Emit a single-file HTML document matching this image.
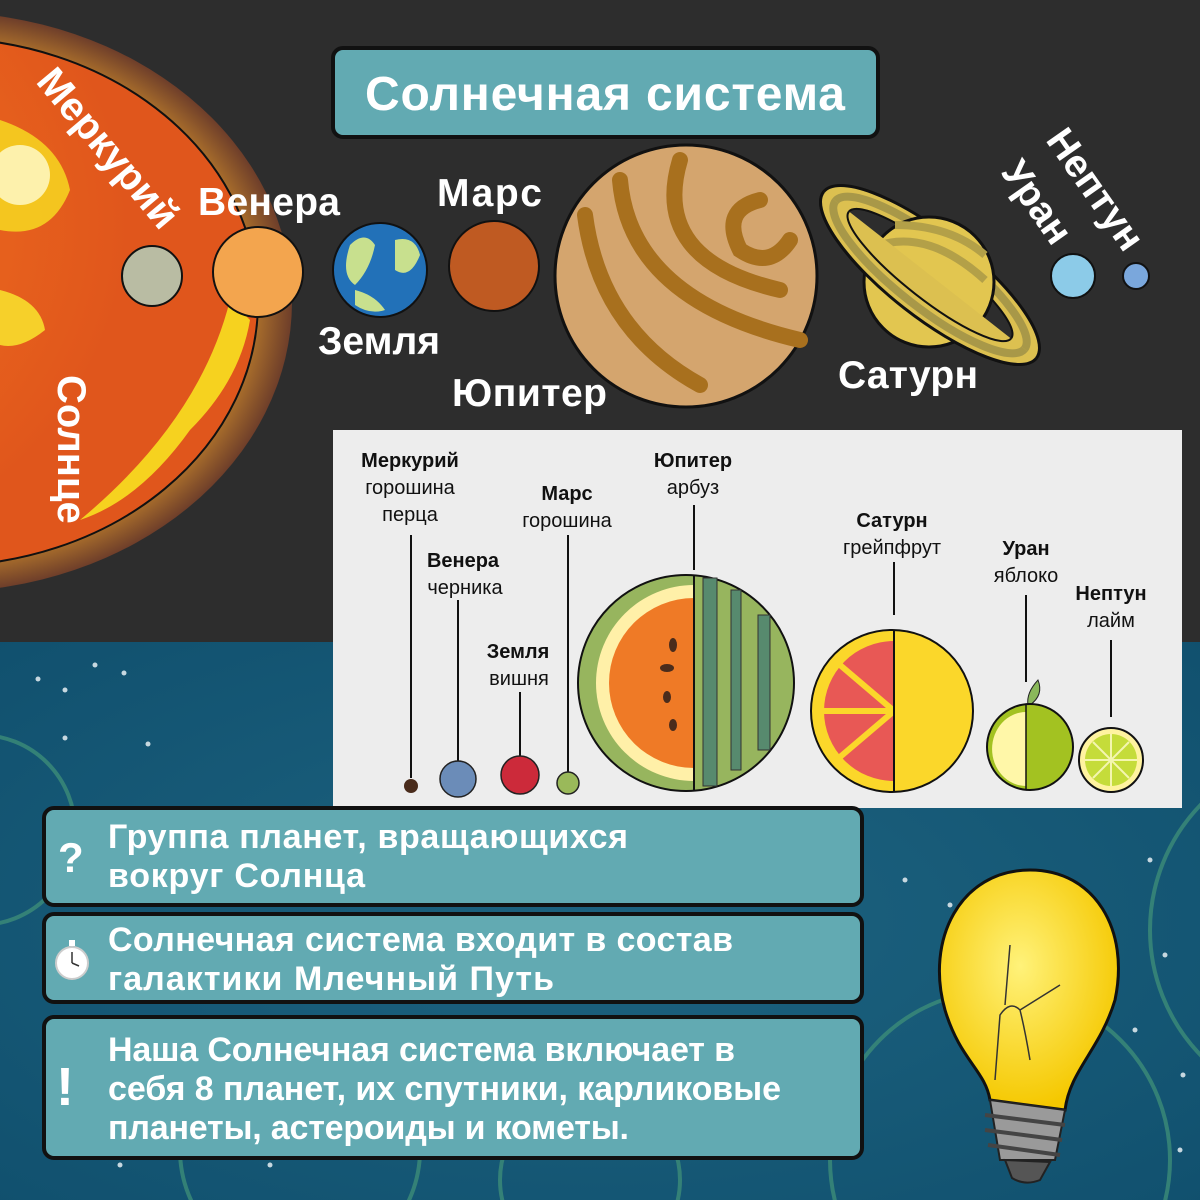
<!DOCTYPE html>
<html><head><meta charset="utf-8"><style>
html,body{margin:0;padding:0;width:1200px;height:1200px;overflow:hidden;background:#2d2d2d}
svg{display:block;overflow:hidden}
text{font-family:"Liberation Sans","DejaVu Sans",sans-serif}
</style></head><body>
<svg width="1200" height="1200" viewBox="0 0 1200 1200" xmlns="http://www.w3.org/2000/svg">
<defs>
<radialGradient id="sea" cx="0.5" cy="0.5" r="0.8"><stop offset="0" stop-color="#1d6380"/><stop offset="1" stop-color="#0f4e6c"/></radialGradient>
<radialGradient id="sunglow" cx="0.1" cy="0.35" r="0.7"><stop offset="0" stop-color="#fff6a0"/><stop offset="0.15" stop-color="#f8d22a"/><stop offset="0.45" stop-color="#ec6a1e"/><stop offset="1" stop-color="#e0561c"/></radialGradient>
<radialGradient id="corona" cx="0.5" cy="0.5" r="0.5"><stop offset="0.85" stop-color="#c8872c"/><stop offset="1" stop-color="#6e3e2a"/></radialGradient>
<radialGradient id="bulb" cx="0.45" cy="0.4" r="0.6"><stop offset="0" stop-color="#fff27a"/><stop offset="1" stop-color="#f5c800"/></radialGradient>
<clipPath id="front"><polygon points="694,90 1166,460 1166,700 600,700 600,90"/></clipPath>
</defs>
<rect width="1200" height="1200" fill="#2d2d2d"/>
<rect y="642" width="1200" height="558" fill="url(#sea)"/>
<g fill="none" stroke="#3c8c78" stroke-width="4" opacity="0.8">
<circle cx="-20" cy="830" r="95"/>
<circle cx="1330" cy="930" r="180"/>
<circle cx="1000" cy="1160" r="170"/>
<circle cx="300" cy="1150" r="120"/>
<circle cx="590" cy="1180" r="90"/>
</g>
<g fill="#c7d8e0">
<circle cx="38" cy="679" r="2.5"/><circle cx="95" cy="665" r="2.5"/><circle cx="124" cy="673" r="2.5"/><circle cx="65" cy="690" r="2.5"/><circle cx="65" cy="738" r="2.5"/><circle cx="148" cy="744" r="2.5"/><circle cx="1150" cy="860" r="2.5"/><circle cx="1165" cy="955" r="2.5"/><circle cx="1183" cy="1075" r="2.5"/><circle cx="905" cy="880" r="2.5"/><circle cx="950" cy="905" r="2.5"/><circle cx="1180" cy="1150" r="2.5"/><circle cx="270" cy="1165" r="2.5"/><circle cx="120" cy="1165" r="2.5"/><circle cx="1135" cy="1030" r="2.5"/>
</g>
<!-- Sun -->
<ellipse cx="-60" cy="302" rx="352" ry="290" fill="url(#corona)"/>
<ellipse cx="-60" cy="302" rx="318" ry="264" fill="url(#sunglow)" stroke="#111" stroke-width="2"/>
<path d="M230 300 Q200 420 80 520 Q140 500 190 430 Q240 380 250 320Z" fill="#f8e020" opacity="0.9"/>
<path d="M0 120 Q60 140 70 190 Q50 240 0 230Z" fill="#f8e020" opacity="0.8"/>
<path d="M0 290 Q40 300 45 330 Q20 350 0 345Z" fill="#f6d02a"/>
<circle cx="20" cy="175" r="30" fill="#fffbd0" opacity="0.8"/>
<text transform="translate(35,82) rotate(50)" font-size="40" font-weight="bold" fill="#fff">Меркурий</text>
<text transform="translate(58,375) rotate(90)" font-size="40" font-weight="bold" fill="#fff">Солнце</text>
<!-- title -->
<rect x="333" y="48" width="545" height="89" rx="10" fill="#62aab2" stroke="#111" stroke-width="4"/>
<text x="605" y="110" font-size="48" font-weight="bold" fill="#fff" text-anchor="middle" textLength="480">Солнечная система</text>
<!-- planets -->
<circle cx="152" cy="276" r="30" fill="#b9bca3" stroke="#111" stroke-width="2"/>
<circle cx="258" cy="272" r="45" fill="#f3a54e" stroke="#111" stroke-width="2"/>
<circle cx="380" cy="270" r="47" fill="#2271b8" stroke="#111" stroke-width="2"/>
<path d="M350 245 q15 -15 25 0 q-5 25 -20 40 q-15 -10 -5 -40Z M395 240 q20 -5 25 15 q-10 25 -25 15Z M355 290 q20 5 30 20 q-15 5 -30 -5Z" fill="#c8e08e"/>
<circle cx="494" cy="266" r="45" fill="#bf5a22" stroke="#111" stroke-width="2"/>
<circle cx="686" cy="276" r="131" fill="#d4a56e" stroke="#111" stroke-width="3"/>
<g fill="none" stroke="#a8701e" stroke-width="16" stroke-linecap="round">
<path d="M585 215 Q600 330 700 385"/>
<path d="M620 180 Q630 300 800 340"/>
<path d="M680 160 Q650 260 780 290"/>
<path d="M760 200 Q720 210 740 250 Q770 270 790 240"/>
</g>
<!-- Saturn -->
<g transform="rotate(38 930 275)">
<ellipse cx="930" cy="275" rx="135" ry="42" fill="#dcc050" stroke="#111" stroke-width="3"/>
<ellipse cx="930" cy="275" rx="120" ry="33" fill="none" stroke="#a89848" stroke-width="8"/>
<ellipse cx="930" cy="275" rx="103" ry="24" fill="#2d2d2d" stroke="#111" stroke-width="2"/>
</g>
<circle cx="929" cy="282" r="65" fill="#e2c650" stroke="#111" stroke-width="3"/>
<path d="M880 245 Q930 230 985 280 M895 225 Q950 225 985 255" stroke="#b3a048" stroke-width="8" fill="none"/>
<g clip-path="url(#front)">
<g transform="rotate(38 930 275)">
<ellipse cx="930" cy="275" rx="135" ry="42" fill="#dcc050" stroke="#111" stroke-width="3"/>
<ellipse cx="930" cy="275" rx="120" ry="33" fill="none" stroke="#a89848" stroke-width="8"/>
<ellipse cx="930" cy="275" rx="103" ry="24" fill="none" stroke="#111" stroke-width="2"/>
</g>
</g>
<circle cx="1073" cy="276" r="22" fill="#8ccbe8" stroke="#111" stroke-width="2"/>
<circle cx="1136" cy="276" r="13" fill="#7aa7dc" stroke="#111" stroke-width="2"/>
<g font-size="39" font-weight="bold" fill="#fff">
<text x="198" y="215" textLength="142">Венера</text>
<text x="437" y="206" textLength="105">Марс</text>
<text x="318" y="354" textLength="122">Земля</text>
<text x="452" y="406" textLength="155">Юпитер</text>
<text x="838" y="388" textLength="140">Сатурн</text>
<text transform="translate(1000,172) rotate(55)">Уран</text>
<text transform="translate(1045,140) rotate(55)">Нептун</text>
</g>
<!-- white panel -->
<rect x="333" y="430" width="849" height="378" fill="#ededed"/>
<g font-size="20" fill="#111" text-anchor="middle">
<text x="410" y="467" font-weight="bold">Меркурий</text><text x="410" y="494">горошина</text><text x="410" y="521">перца</text>
<text x="463" y="567" font-weight="bold">Венера</text><text x="465" y="594">черника</text>
<text x="518" y="658" font-weight="bold">Земля</text><text x="519" y="685">вишня</text>
<text x="567" y="500" font-weight="bold">Марс</text><text x="567" y="527">горошина</text>
<text x="693" y="467" font-weight="bold">Юпитер</text><text x="693" y="494">арбуз</text>
<text x="892" y="527" font-weight="bold">Сатурн</text><text x="892" y="554">грейпфрут</text>
<text x="1026" y="555" font-weight="bold">Уран</text><text x="1026" y="582">яблоко</text>
<text x="1111" y="600" font-weight="bold">Нептун</text><text x="1111" y="627">лайм</text>
</g>
<g stroke="#111" stroke-width="2">
<line x1="411" y1="535" x2="411" y2="778"/><line x1="458" y1="600" x2="458" y2="761"/><line x1="520" y1="692" x2="520" y2="756"/><line x1="568" y1="535" x2="568" y2="772"/><line x1="694" y1="505" x2="694" y2="570"/><line x1="894" y1="562" x2="894" y2="615"/><line x1="1026" y1="595" x2="1026" y2="682"/><line x1="1111" y1="640" x2="1111" y2="717"/>
</g>
<circle cx="411" cy="786" r="7" fill="#4a2c1c"/>
<circle cx="458" cy="779" r="18" fill="#6b8cb8" stroke="#222" stroke-width="1.5"/>
<circle cx="520" cy="775" r="19" fill="#cc2a3a" stroke="#222" stroke-width="1.5"/>
<circle cx="568" cy="783" r="11" fill="#9ab95a" stroke="#222" stroke-width="1.5"/>
<!-- watermelon -->
<circle cx="686" cy="683" r="108" fill="#97b55e" stroke="#111" stroke-width="2"/>
<path d="M694 585 A98 98 0 0 0 694 781Z" fill="#fff0a8"/>
<path d="M694 598 A85 85 0 0 0 694 768Z" fill="#ef7a26"/>
<g fill="#4a2c1c"><ellipse cx="673" cy="645" rx="4" ry="7"/><ellipse cx="667" cy="668" rx="7" ry="4"/><ellipse cx="667" cy="697" rx="4" ry="6"/><ellipse cx="673" cy="725" rx="4" ry="6"/></g>
<line x1="694" y1="575" x2="694" y2="791" stroke="#111" stroke-width="2"/>
<g fill="#578a6e" stroke="#333" stroke-width="1"><rect x="703" y="578" width="14" height="208"/><rect x="731" y="590" width="10" height="180"/><rect x="758" y="615" width="12" height="135"/></g>
<!-- grapefruit -->
<circle cx="892" cy="711" r="81" fill="#fbd72a" stroke="#111" stroke-width="2"/>
<path d="M894 641 A70 70 0 0 0 894 781Z" fill="#e85855"/>
<g stroke="#fbd72a" stroke-width="6"><line x1="894" y1="711" x2="824" y2="711"/><line x1="894" y1="711" x2="840" y2="665"/><line x1="894" y1="711" x2="840" y2="757"/></g>
<line x1="894" y1="630" x2="894" y2="792" stroke="#111" stroke-width="2"/>
<!-- apple -->
<path d="M1028 705 q-2 -12 10 -25 q6 15 -8 25Z" fill="#8ab85a" stroke="#222" stroke-width="1"/>
<circle cx="1030" cy="747" r="43" fill="#a3c221" stroke="#111" stroke-width="2"/>
<path d="M1026 712 A33 36 0 0 0 1026 786Z" fill="#fff7a8"/>
<line x1="1026" y1="704" x2="1026" y2="790" stroke="#111" stroke-width="1.5"/>
<!-- lime -->
<circle cx="1111" cy="760" r="32" fill="#fff3a0" stroke="#111" stroke-width="2"/>
<circle cx="1111" cy="760" r="26" fill="#c5dc3a"/>
<g stroke="#f4f6b0" stroke-width="2"><line x1="1085" y1="760" x2="1137" y2="760"/><line x1="1111" y1="734" x2="1111" y2="786"/><line x1="1093" y1="742" x2="1129" y2="778"/><line x1="1129" y1="742" x2="1093" y2="778"/></g>
<!-- info boxes -->
<g fill="#62aab2" stroke="#111" stroke-width="4">
<rect x="44" y="808" width="818" height="97" rx="10"/>
<rect x="44" y="914" width="818" height="88" rx="10"/>
<rect x="44" y="1017" width="818" height="141" rx="10"/>
</g>
<g font-size="34" font-weight="bold" fill="#fff">
<text x="58" y="872" font-size="42">?</text>
<text x="108" y="848" textLength="520">Группа планет, вращающихся</text>
<text x="108" y="887" textLength="257">вокруг Солнца</text>
<text x="108" y="951" textLength="625">Солнечная система входит в состав</text>
<text x="108" y="990" textLength="446">галактики Млечный Путь</text>
<text x="56" y="1105" font-size="54">!</text>
<text x="108" y="1061" textLength="627">Наша Солнечная система включает в</text>
<text x="108" y="1100" textLength="673">себя 8 планет, их спутники, карликовые</text>
<text x="108" y="1139" textLength="521">планеты, астероиды и кометы.</text>
</g>
<circle cx="72" cy="963" r="16" fill="#fff" stroke="#ccc" stroke-width="2"/>
<rect x="69" y="940" width="6" height="6" fill="#fff"/>
<line x1="72" y1="963" x2="72" y2="952" stroke="#333" stroke-width="1.5"/><line x1="72" y1="963" x2="79" y2="966" stroke="#333" stroke-width="1.5"/>
<!-- bulb -->
<path d="M1030 870 C960 870 925 940 945 1010 C960 1060 985 1070 990 1100 L1065 1110 C1070 1070 1100 1050 1115 1000 C1130 930 1095 870 1030 870Z" fill="url(#bulb)" stroke="#111" stroke-width="3"/>
<path d="M995 1080 L1000 1015 Q1010 1000 1020 1010 Q1025 1030 1030 1060 M1020 1010 L1060 985 M1005 1005 L1010 945" fill="none" stroke="#333" stroke-width="1.5"/>
<path d="M990 1100 L1065 1110 L1055 1160 L1000 1160 Z" fill="#9a9a9a" stroke="#222" stroke-width="2"/>
<g stroke="#444" stroke-width="4"><line x1="985" y1="1115" x2="1065" y2="1125"/><line x1="985" y1="1130" x2="1062" y2="1140"/><line x1="988" y1="1145" x2="1060" y2="1155"/></g>
<path d="M1005 1160 L1050 1162 L1040 1180 Q1025 1186 1012 1178Z" fill="#555" stroke="#222" stroke-width="2"/>
</svg>
</body></html>
